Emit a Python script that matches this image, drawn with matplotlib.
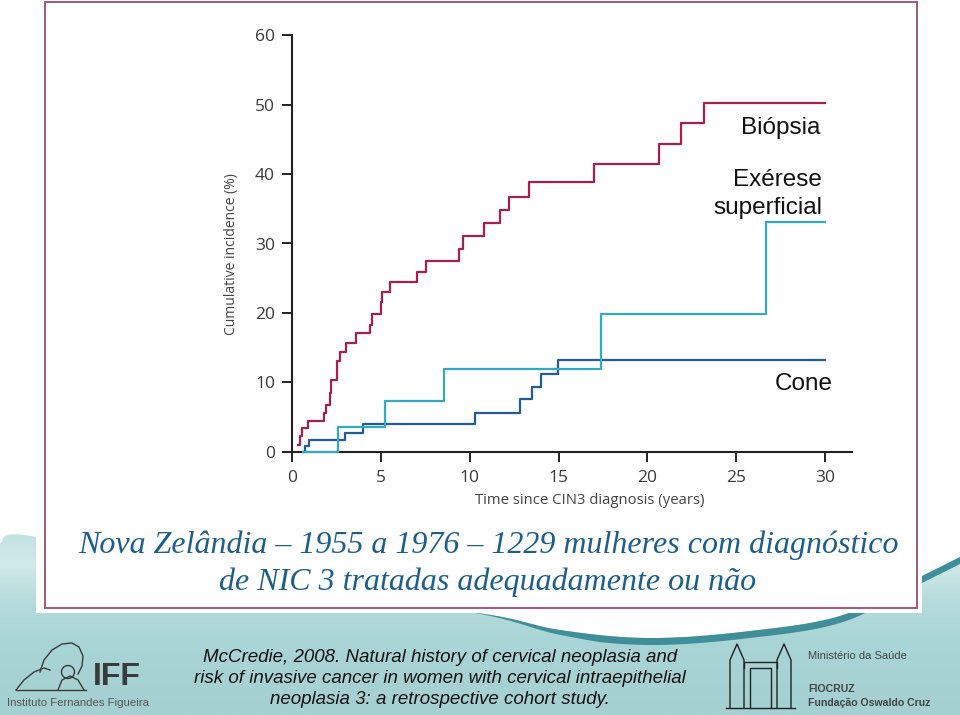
import numpy as np
import matplotlib
matplotlib.use("Agg")
import matplotlib.pyplot as plt
from matplotlib.patches import Polygon, Rectangle, Circle
from matplotlib.colors import to_rgb

# ---------------- data ----------------
biopsia_t = [0.30, 0.43, 0.56, 0.86, 1.79, 1.89, 2.12, 2.20, 2.52, 2.67, 3.04, 3.57,
             4.38, 4.46, 4.97, 5.04, 5.51, 7.01, 7.52, 9.36, 9.64, 10.77, 11.71, 12.18,
             13.31, 17.0, 20.65, 21.9, 23.2, 30.0]
biopsia_y = [0.96, 2.2, 3.35, 4.45, 5.6, 6.7, 8.5, 10.4, 13.0, 14.3, 15.6, 17.05,
             18.3, 19.85, 21.5, 23.0, 24.4, 25.9, 27.5, 29.2, 31.1, 32.95, 34.8, 36.7,
             38.9, 41.4, 44.3, 47.3, 50.3, 50.3]

exerese_t = [0.6, 2.57, 5.2, 8.55, 17.4, 26.7, 30.0]
exerese_y = [0.0, 3.5, 7.35, 11.85, 19.8, 33.1, 33.1]

cone_t = [0.62, 0.74, 0.95, 2.95, 4.0, 10.3, 12.85, 13.5, 14.03, 14.97, 30.0]
cone_y = [0.0, 0.85, 1.75, 2.75, 3.94, 5.62, 7.54, 9.37, 11.2, 13.2, 13.2]

x_ticks = [0, 5, 10, 15, 20, 25, 30]
y_ticks = [0, 10, 20, 30, 40, 50, 60]

series_labels = ["Biópsia", "Exérese", "superficial", "Cone"]
title_lines = ["Nova Zelândia – 1955 a 1976 – 1229 mulheres com diagnóstico",
               "de NIC 3 tratadas adequadamente ou não"]
ref_lines = ["McCredie, 2008. Natural history of cervical neoplasia and",
             "risk of invasive cancer in women with cervical intraepithelial",
             "neoplasia 3: a retrospective cohort study."]

W, H = 960, 715
fig = plt.figure(figsize=(W / 100, H / 100), dpi=100)
fig.patch.set_facecolor("white")

bg = fig.add_axes([0, 0, 1, 1], zorder=0)
bg.set_xlim(0, W)
bg.set_ylim(H, 0)
bg.axis("off")


def catmull(pts, n=40):
    pts = np.asarray(pts, float)
    P = np.vstack([pts[0], pts, pts[-1]])
    out = []
    for i in range(1, len(P) - 2):
        p0, p1, p2, p3 = P[i - 1], P[i], P[i + 1], P[i + 2]
        t = np.linspace(0, 1, n, endpoint=False)[:, None]
        out.append(0.5 * ((2 * p1) + (-p0 + p2) * t + (2 * p0 - 5 * p1 + 4 * p2 - p3) * t ** 2
                          + (-p0 + 3 * p1 - 3 * p2 + p3) * t ** 3))
    out.append(P[-2][None])
    return np.vstack(out)


# teal background region
bnd = catmull([(0, 543), (36, 537), (250, 592), (470, 612), (560, 630), (650, 638),
               (750, 631), (843, 615), (922, 576), (960, 557)])
poly_pts = np.vstack([bnd, [(960, 715), (0, 715)]])
teal_poly = Polygon(poly_pts, closed=True, facecolor="none", edgecolor="none")
bg.add_patch(teal_poly)
yy = np.linspace(0, H, 300)
stops_y = [0, 530, 565, 600, 640, 715]
stops_c = [to_rgb(c) for c in ["#bfe0e0", "#bfe0e0", "#d2eaea", "#b6dcdc", "#aad5d6", "#a4d0d1"]]
grad = np.zeros((len(yy), 2, 3))
for k in range(3):
    col = np.interp(yy, stops_y, [c[k] for c in stops_c])
    grad[:, :, k] = col[:, None]
im = bg.imshow(grad, extent=[0, W, H, 0], aspect="auto", zorder=0.5)
im.set_clip_path(teal_poly)

# dark swoosh band
sel = bnd[:, 0] >= 470
bx, byy = bnd[sel, 0], bnd[sel, 1]
thick = 7.0 * np.clip((bx - 470) / 130.0, 0, 1)
band = np.vstack([np.column_stack([bx, byy]), np.column_stack([bx[::-1], (byy + thick)[::-1]])])
bg.add_patch(Polygon(band, closed=True, facecolor="#3f8e99", edgecolor="none", zorder=0.8))

# white slide frame
bg.add_patch(Rectangle((36, 0), 922 - 36, 613, facecolor="white", edgecolor="none", zorder=1))
bg.add_patch(Rectangle((44.7, 1.5), 916.7 - 44.7, 608 - 1.5, facecolor="none",
                       edgecolor="#a8567a", linewidth=1.4, zorder=1.2))

# ---------------- chart ----------------
x0, x1 = 292.3, 851.7
y0, y1 = 451.7, 35.3
ax = fig.add_axes([x0 / W, (H - y0) / H, (x1 - x0) / W, (y0 - y1) / H], zorder=2)
ax.patch.set_alpha(0)
ax.set_xlim(0, 31.5)
ax.set_ylim(0, 60)
for s in ["top", "right"]:
    ax.spines[s].set_visible(False)
for s in ["left", "bottom"]:
    ax.spines[s].set_linewidth(1.5)
    ax.spines[s].set_color("#222222")
ax.set_xticks(x_ticks)
ax.set_yticks(y_ticks)
ax.set_xticklabels([str(v) for v in x_ticks], family="Open Sans")
ax.set_yticklabels([str(v) for v in y_ticks], family="Open Sans")
ax.tick_params(axis="both", direction="out", length=7.5, width=1.4, colors="#222222",
               labelcolor="#3a3a3a", labelsize=12.5)
ax.tick_params(axis="x", pad=6)
ax.tick_params(axis="y", pad=5)

ax.step(cone_t, cone_y, where="post", color="#235b94", lw=1.6, clip_on=False, zorder=3)
ax.step(exerese_t, exerese_y, where="post", color="#33a9c4", lw=1.6, clip_on=False, zorder=3)
ax.step(biopsia_t, biopsia_y, where="post", color="#a3204f", lw=1.6, clip_on=False, zorder=4)

lab_font = dict(family="Liberation Sans", fontsize=17.5, color="#111111", zorder=3)
bg.text(820, 128, series_labels[0], ha="right", va="center", **lab_font)
bg.text(822, 180, series_labels[1], ha="right", va="center", **lab_font)
bg.text(822, 208, series_labels[2], ha="right", va="center", **lab_font)
bg.text(833, 384, series_labels[3], ha="right", va="center", **lab_font)

bg.text(231, 254, "Cumulative incidence (%)", rotation=90, ha="center", va="center",
        family="Open Sans", fontsize=10, color="#444444", zorder=3)
bg.text(590, 500, "Time since CIN3 diagnosis (years)", ha="center", va="center",
        family="Open Sans", fontsize=10.7, color="#444444", zorder=3)

# title
for i, line in enumerate(title_lines):
    bg.text(488, 545 + i * 37, line, ha="center", va="center", family="Liberation Serif",
            style="italic", fontsize=23, color="#1d5f8a", zorder=3)

# reference text
for i, line in enumerate(ref_lines):
    bg.text(440, 657 + i * 21.5, line, ha="center", va="center",
            family=["Liberation Sans Narrow", "Liberation Sans"], style="italic",
            fontsize=13.5, color="#111111", zorder=3)

# IFF logo (simplified)
lc = "#3a3a3a"
bg.plot([40, 44, 52, 62, 72, 79, 83, 82, 78], [672, 660, 650, 644, 643, 647, 656, 666, 674],
        color=lc, lw=1.0, zorder=3)
bg.plot([16, 24, 34, 44, 50], [690, 680, 672, 668, 670], color=lc, lw=1.0, zorder=3)
bg.plot([16, 86], [690, 690], color=lc, lw=1.0, zorder=3)
bg.plot([58, 62, 70, 78, 84], [690, 680, 676, 680, 690], color=lc, lw=1.0, zorder=3)
bg.add_patch(Circle((68, 672), 6.5, facecolor="none", edgecolor=lc, lw=1.0, zorder=3))
bg.text(93, 677, "IFF", ha="left", va="center", family="Liberation Sans", weight="bold",
        fontsize=23, color="#3a3a3a", zorder=3)
bg.text(78, 703, "Instituto Fernandes Figueira", ha="center", va="center",
        family="Liberation Sans", fontsize=8.2, color="#555555", zorder=3)

# FIOCRUZ logo (simplified)
bc = "#222222"
bg.plot([730, 730, 737, 744, 744], [708, 660, 644, 660, 708], color=bc, lw=1.0, zorder=3)
bg.plot([777, 777, 784, 791, 791], [708, 660, 644, 660, 708], color=bc, lw=1.0, zorder=3)
bg.plot([744, 744, 777, 777], [668, 662, 662, 668], color=bc, lw=1.0, zorder=3)
bg.plot([750, 750, 771, 771], [708, 668, 668, 708], color=bc, lw=1.0, zorder=3)
bg.plot([726, 795], [708, 708], color=bc, lw=1.0, zorder=3)
bg.text(808, 656, "Ministério da Saúde", ha="left", va="center", family="Liberation Sans",
        fontsize=8, color="#444444", zorder=3)
bg.text(808, 689, "FIOCRUZ", ha="left", va="center", family="Liberation Sans",
        weight="bold", fontsize=7.6, color="#444444", zorder=3)
bg.text(808, 703, "Fundação Oswaldo Cruz", ha="left", va="center", family="Liberation Sans",
        weight="bold", fontsize=7.6, color="#444444", zorder=3)

fig.savefig("out.png", dpi=100)
